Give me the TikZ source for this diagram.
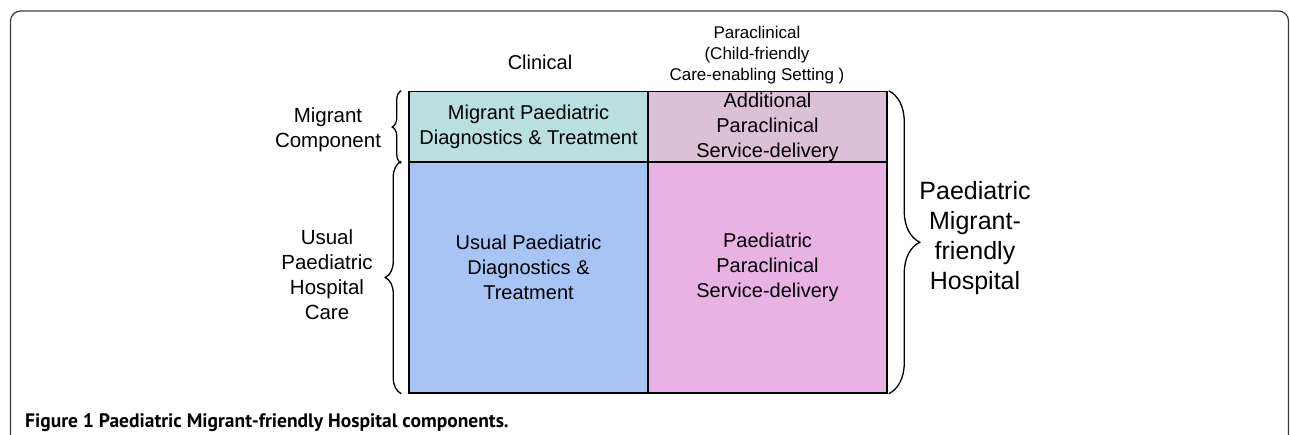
\documentclass[tikz,border=0pt]{standalone}
\usepackage{fontspec}
\setmainfont{Liberation Sans}
\newfontfamily\capfont{PT Sans}
\usetikzlibrary{positioning, decorations.pathreplacing}

\definecolor{migclin}{RGB}{185,223,225}
\definecolor{migpara}{RGB}{219,192,215}
\definecolor{usclin}{RGB}{168,196,244}
\definecolor{uspara}{RGB}{233,178,228}
\definecolor{framegray}{RGB}{60,60,60}

\tikzset{
  cell/.style={draw=black, line width=1.5pt, minimum width=239pt, inner sep=0pt},
  celltext/.style={align=center, font=\fontsize{20}{25}\selectfont},
  sidelabel/.style={align=center, font=\fontsize{20.5}{25}\selectfont},
  curly/.style={decorate, decoration={brace, amplitude=#1}, line width=1.3pt},
  curly/.default=10pt
}

\begin{document}
\begin{tikzpicture}[x=1pt, y=-1pt]
\useasboundingbox (0,0) rectangle (1290,434);
\draw[framegray, line width=1.2pt, rounded corners=10pt] (10.5,11) rectangle (1288.5,480);

% the four cells
\node[cell, fill=migclin, minimum height=71pt] (migclin) at (528.5,127) {};
\node[cell, fill=migpara, minimum height=71pt] (migpara) at (767.5,127) {};
\node[cell, fill=usclin, minimum height=231pt] (usclin) at (528.5,277.5) {};
\node[cell, fill=uspara, minimum height=231pt] (uspara) at (767.5,277.5) {};

\node[celltext] at (migclin) {Migrant Paediatric\\Diagnostics \& Treatment};
\node[celltext] at (migpara) {Additional\\Paraclinical\\Service-delivery};
\node[celltext] at ([yshift=10pt]usclin.center) {Usual Paediatric\\Diagnostics \&\\Treatment};
\node[celltext] at ([yshift=10pt]uspara.center) {Paediatric\\Paraclinical\\Service-delivery};

% headings
\node[font=\fontsize{20}{24}\selectfont] (clinical) at (540,62) {Clinical};
\node[align=center, font=\fontsize{17}{21}\selectfont] (paraclin) at (757,55) {Paraclinical\\(Child-friendly\\Care-enabling Setting )};

% braces
\draw[curly=9pt] ([xshift=-7pt]migclin.south west) -- ([xshift=-7pt]migclin.north west);
\draw[curly=16pt] ([xshift=-7pt]usclin.south west) -- ([xshift=-7pt]usclin.north west);
\draw[curly=31pt] ([xshift=1pt]migpara.north east) -- ([xshift=1pt]uspara.south east);

\node[sidelabel] (migcomp) at (328,130) {Migrant\\Component};
\node[sidelabel] (usualcare) at (327,275) {Usual\\Paediatric\\Hospital\\Care};
\node[align=center, font=\fontsize{25}{30}\selectfont] (pmfh) at (975,238) {Paediatric\\Migrant-\\friendly\\Hospital};

\node[anchor=base west, inner sep=0pt, font=\capfont\bfseries\fontsize{19.5}{22}\selectfont] (caption) at (25,427) {Figure 1 Paediatric Migrant-friendly Hospital components.};
\end{tikzpicture}
\end{document}
